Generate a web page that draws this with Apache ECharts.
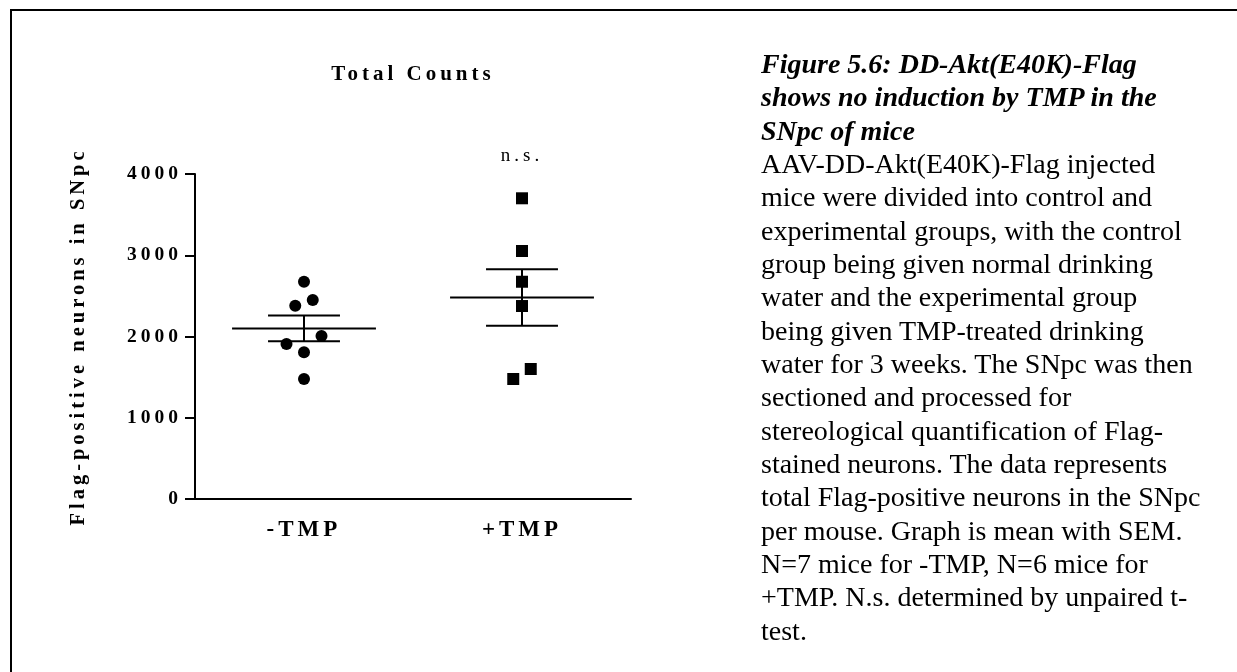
<!DOCTYPE html>
<html>
<head>
<meta charset="utf-8">
<title>Total Counts</title>
<script src="https://cdn.jsdelivr.net/npm/echarts@6/dist/echarts.min.js"></script>
<style>
  html, body { margin: 0; padding: 0; background: #fff; }
  #stage { position: relative; width: 1237px; height: 672px; overflow: hidden; background: #fff; }
  #frame { position: absolute; left: 10px; top: 9px; width: 1400px; height: 800px;
           border: 2px solid #000; box-sizing: border-box; }
  #chart { position: absolute; left: 0; top: 0; width: 1237px; height: 672px; }
  #caption { position: absolute; left: 761px; top: 47px; color: #000;
             font-family: "Liberation Serif", "Times New Roman", serif;
             font-size: 28px; line-height: 33.33px; white-space: nowrap; }
  #caption .head { font-weight: bold; font-style: italic; }
</style>
</head>
<body>
<div id="stage">
  <div id="frame"></div>
  <div id="chart"></div>
  <div id="caption">
    <div class="head">Figure 5.6: DD-Akt(E40K)-Flag</div>
    <div class="head">shows no induction by TMP in the</div>
    <div class="head">SNpc of mice</div>
    <div>AAV-DD-Akt(E40K)-Flag injected</div>
    <div>mice were divided into control and</div>
    <div>experimental groups, with the control</div>
    <div>group being given normal drinking</div>
    <div>water and the experimental group</div>
    <div>being given TMP-treated drinking</div>
    <div>water for 3 weeks. The SNpc was then</div>
    <div>sectioned and processed for</div>
    <div>stereological quantification of Flag-</div>
    <div>stained neurons. The data represents</div>
    <div>total Flag-positive neurons in the SNpc</div>
    <div>per mouse. Graph is mean with SEM.</div>
    <div>N=7 mice for -TMP, N=6 mice for</div>
    <div>+TMP. N.s. determined by unpaired t-</div>
    <div>test.</div>
  </div>
</div>
<script>
// Groups on the x axis
const groups = ['-TMP', '+TMP'];
// Flag-positive neurons per mouse
const minusTMP = [2674, 2379, 2449, 1908, 1806, 2006, 1477];
const plusTMP = [3701, 3052, 2674, 2375, 1477, 1600];
// y axis ticks
const yTicks = [0, 1000, 2000, 3000, 4000];
// significance mark above +TMP
const sigLabel = 'n.s.';

const FONT = '"Liberation Serif", "Times New Roman", serif';
const GRID = { left: 195, top: 174, width: 436, height: 325 };

// Values closer together than ROW_SPAN share one row of markers,
// spread sideways PITCH px apart (scatter-dot style layout).
const ROW_SPAN = 215;
const PITCH = 17.5;
function swarmOffsets(values) {
  const order = values.map((v, i) => i).sort((a, b) => values[b] - values[a]);
  const rows = [];
  order.forEach(i => {
    const row = rows[rows.length - 1];
    if (row && values[row[0]] - values[i] < ROW_SPAN) row.push(i);
    else rows.push([i]);
  });
  const off = new Array(values.length).fill(0);
  rows.forEach(row => {
    row.sort((a, b) => a - b);
    row.forEach((idx, k) => { off[idx] = (k - (row.length - 1) / 2) * PITCH; });
  });
  return off;
}

function meanSem(values) {
  const n = values.length;
  const m = values.reduce((a, b) => a + b, 0) / n;
  const sd = Math.sqrt(values.reduce((a, v) => a + (v - m) * (v - m), 0) / (n - 1));
  return [m, sd / Math.sqrt(n)];
}

function pointData(group, values) {
  const off = swarmOffsets(values);
  return values.map((v, i) => ({ value: [group, v], symbolOffset: [off[i], 0] }));
}

const summary = [minusTMP, plusTMP].map((vals, i) => {
  const ms = meanSem(vals);
  return [groups[i], ms[0], ms[1]];
});

const black = '#000';
const option = {
  animation: false,
  backgroundColor: 'transparent',
  grid: { left: GRID.left, top: GRID.top, width: GRID.width, height: GRID.height, containLabel: false },
  xAxis: {
    type: 'category',
    data: groups,
    boundaryGap: true,
    axisLine: { lineStyle: { color: black, width: 2 } },
    axisTick: { alignWithLabel: true, length: 10, lineStyle: { color: black, width: 2 } },
    axisLabel: { margin: 20, color: black, fontFamily: FONT, fontWeight: 'bold', fontSize: 23 },
    splitLine: { show: false }
  },
  yAxis: {
    type: 'value',
    min: yTicks[0],
    max: yTicks[yTicks.length - 1],
    interval: yTicks[1] - yTicks[0],
    axisLine: { show: true, lineStyle: { color: black, width: 2 } },
    axisTick: { show: true, length: 10, lineStyle: { color: black, width: 2 } },
    axisLabel: {
      margin: 13, color: black, fontFamily: FONT, fontWeight: 'bold', fontSize: 19.5,
      formatter: v => String(v)
    },
    splitLine: { show: false },
    name: 'Flag-positive neurons in SNpc',
    nameLocation: 'middle',
    nameGap: 106,
    nameTextStyle: { color: black, fontFamily: FONT, fontWeight: 'bold', fontSize: 20.5 }
  },
  graphic: [
    {
      type: 'text',
      x: GRID.left + GRID.width / 2,
      y: 75,
      style: { text: 'Total Counts', fill: black, font: 'bold 21px ' + FONT,
               textAlign: 'center', textVerticalAlign: 'middle' }
    },
    {
      type: 'text',
      x: GRID.left + GRID.width * 3 / 4,
      y: 156,
      style: { text: sigLabel, fill: black, font: '19px ' + FONT,
               textAlign: 'center', textVerticalAlign: 'middle' }
    }
  ],
  series: [
    {
      type: 'custom',
      name: 'mean ± SEM',
      encode: { x: 0, y: 1 },
      data: summary,
      z: 3,
      renderItem(params, api) {
        const g = api.value(0);
        const m = api.value(1);
        const e = api.value(2);
        const c = api.coord([g, m]);
        const hi = api.coord([g, m + e]);
        const lo = api.coord([g, m - e]);
        const band = api.size([1, 0])[0];
        const half = band * 0.33;
        const cap = band * 0.165;
        const style = { stroke: black, lineWidth: 2 };
        return {
          type: 'group',
          children: [
            { type: 'line', shape: { x1: c[0] - half, y1: c[1], x2: c[0] + half, y2: c[1] }, style },
            { type: 'line', shape: { x1: c[0], y1: hi[1], x2: c[0], y2: lo[1] }, style },
            { type: 'line', shape: { x1: c[0] - cap, y1: hi[1], x2: c[0] + cap, y2: hi[1] }, style },
            { type: 'line', shape: { x1: c[0] - cap, y1: lo[1], x2: c[0] + cap, y2: lo[1] }, style }
          ]
        };
      }
    },
    {
      type: 'scatter',
      name: groups[0],
      symbol: 'circle',
      symbolSize: 12,
      itemStyle: { color: black, opacity: 1 },
      data: pointData(groups[0], minusTMP),
      z: 2
    },
    {
      type: 'scatter',
      name: groups[1],
      symbol: 'rect',
      symbolSize: 12,
      itemStyle: { color: black, opacity: 1 },
      data: pointData(groups[1], plusTMP),
      z: 2
    }
  ]
};

const chart = echarts.init(document.getElementById('chart'), null, { renderer: 'canvas' });
// Prism-style tracked lettering for every label drawn on the chart canvas
try {
  const layer = chart.getZr().painter.getLayer(0);
  if (layer && layer.ctx) layer.ctx.letterSpacing = '4px';
} catch (err) { /* plain spacing if the canvas cannot track text */ }
chart.setOption(option);
</script>
</body>
</html>
